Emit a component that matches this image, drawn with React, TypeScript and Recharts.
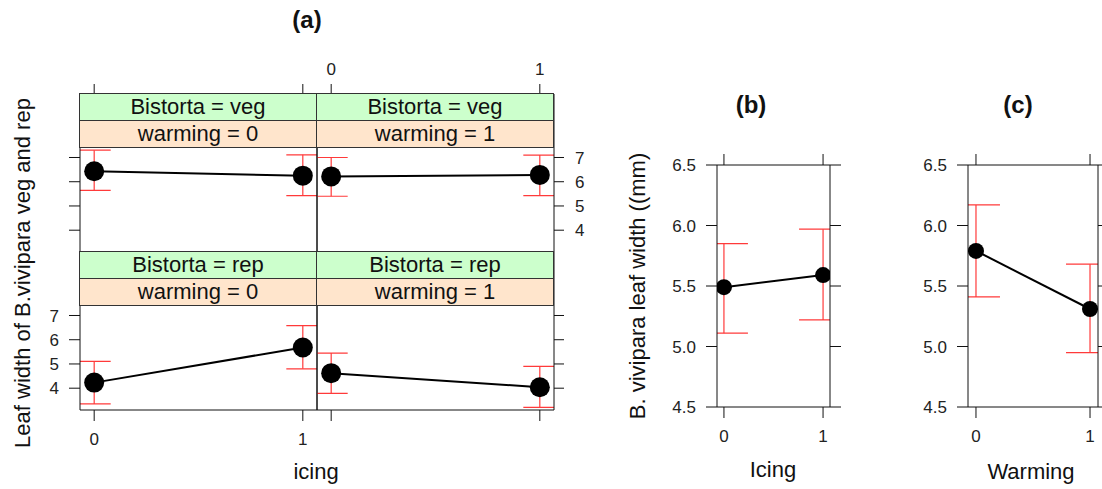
import { LineChart, Line, XAxis, YAxis, ErrorBar } from 'recharts';

// treatment levels on the x axes
const levels = [0, 1];
const latticeYTicks = [4, 5, 6, 7];
const meanYTicks = [4.5, 5.0, 5.5, 6.0, 6.5];

// (a) Bistorta veg / rep by warming, mean with lower/upper limits
const vegW0Mean = [6.43, 6.25];
const vegW0Low = [5.64, 5.43];
const vegW0High = [7.3, 7.11];

const vegW1Mean = [6.22, 6.28];
const vegW1Low = [5.4, 5.43];
const vegW1High = [7.0, 7.1];

const repW0Mean = [4.23, 5.68];
const repW0Low = [3.35, 4.8];
const repW0High = [5.11, 6.58];

const repW1Mean = [4.62, 4.04];
const repW1Low = [3.79, 3.21];
const repW1High = [5.45, 4.9];

// (b) icing, (c) warming
const icingMean = [5.49, 5.59];
const icingLow = [5.11, 5.22];
const icingHigh = [5.85, 5.97];

const warmingMean = [5.79, 5.31];
const warmingLow = [5.41, 4.95];
const warmingHigh = [6.17, 5.68];

const FONT = '"Liberation Sans", Arial, Helvetica, sans-serif';
const AX = '#111';
const ERR = '#ff3a3a';

function rows(mean: number[], low: number[], high: number[]) {
  return levels.map((lvl, i) => ({
    level: lvl,
    mean: mean[i],
    err: [mean[i] - low[i], high[i] - mean[i]],
  }));
}

type Side = 'none' | 'ticks' | 'labels';

const tickFont = { fontSize: 17, fill: '#222', fontFamily: FONT };
// tick mark without a label
const noLabel = () => <g />;

const pick = (s: Side) => (s === 'labels' ? tickFont : noLabel);

// clip rect for the error bars, so caps stop at the panel border
function PlotClip({ id, x, y, w, h }: { id: string; x: number; y: number; w: number; h: number }) {
  return (
    <>
      <defs>
        <clipPath id={id}>
          <rect x={x} y={y} width={w} height={h} />
        </clipPath>
      </defs>
      <style>{`.${id} .recharts-errorBars, .${id} .recharts-errorBar { clip-path: url(#${id}); }`}</style>
    </>
  );
}

function LatticePanel(props: {
  id: string;
  x: number;
  y: number;
  data: any[];
  left: Side;
  right: Side;
  top: Side;
  bottom: Side;
  strip1: string;
  strip2: string;
}) {
  const { id, x, y, data, left, right, top, bottom, strip1, strip2 } = props;
  const padL = 50, padR = 40, padT = 40, padB = 50;
  const w = 237, h = 158;
  const xDomain = [-0.068, 1.068];
  const yDomain = [3.1, 9.62];
  return (
    <>
      <div className={id} style={{ position: 'absolute', left: x - padL + 0.5, top: y - padT + 0.5 }}>
        <LineChart
          width={padL + w + padR}
          height={padT + h + padB}
          data={data}
          margin={{ top: 0, right: 0, bottom: 0, left: 0 }}
        >
          <PlotClip id={id} x={padL} y={padT} w={w} h={h} />
          <XAxis xAxisId="b" dataKey="level" type="number" orientation="bottom" domain={xDomain}
            ticks={levels} interval={0} height={padB} stroke={AX} allowDataOverflow
            tickLine={bottom !== 'none'} tickSize={11} tickMargin={12} tick={pick(bottom)} />
          <XAxis xAxisId="t" dataKey="level" type="number" orientation="top" domain={xDomain}
            ticks={levels} interval={0} height={padT} stroke={AX} allowDataOverflow
            tickLine={top !== 'none'} tickSize={10} tickMargin={9} tick={pick(top)} />
          <YAxis yAxisId="l" type="number" orientation="left" domain={yDomain} ticks={latticeYTicks}
            interval={0} width={padL} stroke={AX} allowDataOverflow
            tickLine={left !== 'none'} tickSize={11} tickMargin={10} tick={pick(left)} />
          <YAxis yAxisId="r" type="number" orientation="right" domain={yDomain} ticks={latticeYTicks}
            interval={0} width={padR} stroke={AX} allowDataOverflow
            tickLine={right !== 'none'} tickSize={10} tickMargin={11} tick={pick(right)} />
          <Line xAxisId="b" yAxisId="l" dataKey="mean" stroke="#000" strokeWidth={2}
            dot={{ r: 10, fill: '#000', stroke: '#000', strokeWidth: 0 }} isAnimationActive={false}>
            <ErrorBar dataKey="err" width={16.5} stroke={ERR} strokeWidth={1.2} direction="y" />
          </Line>
        </LineChart>
      </div>
      <div style={{ ...stripStyle, left: x, top: y, background: '#ccffcc' }}>{strip1}</div>
      <div style={{ ...stripStyle, left: x, top: y + 27, background: '#ffe5cc' }}>{strip2}</div>
    </>
  );
}

const stripStyle: any = {
  position: 'absolute',
  width: 238,
  height: 28,
  boxSizing: 'border-box',
  border: '1px solid #333',
  fontSize: 22,
  lineHeight: '25px',
  textAlign: 'center',
  color: '#111',
};

function MeanPanel(props: { id: string; x: number; y: number; w: number; h: number; data: any[] }) {
  const { id, x, y, w, h, data } = props;
  const padL = 70, padR = 20, padT = 20, padB = 40;
  const xDomain = [-0.07, 1.07];
  const yDomain = [4.5, 6.5];
  return (
    <div className={id} style={{ position: 'absolute', left: x - padL + 0.5, top: y - padT + 0.5 }}>
      <LineChart width={padL + w + padR} height={padT + h + padB} data={data}
        margin={{ top: 0, right: 0, bottom: 0, left: 0 }}>
        <PlotClip id={id} x={padL} y={padT} w={w} h={h} />
        <XAxis xAxisId="b" dataKey="level" type="number" orientation="bottom" domain={xDomain}
          ticks={levels} interval={0} height={padB} stroke={AX} allowDataOverflow
          tickSize={11} tickMargin={12} tick={tickFont} />
        <XAxis xAxisId="t" dataKey="level" type="number" orientation="top" domain={xDomain}
          ticks={levels} interval={0} height={padT} stroke={AX} allowDataOverflow
          tickSize={11} tick={noLabel} />
        <YAxis yAxisId="l" type="number" orientation="left" domain={yDomain} ticks={meanYTicks}
          interval={0} width={padL} stroke={AX} allowDataOverflow tickSize={11} tickMargin={10}
          tick={tickFont} tickFormatter={(v: number) => v.toFixed(1)} />
        <YAxis yAxisId="r" type="number" orientation="right" domain={yDomain} ticks={meanYTicks}
          interval={0} width={padR} stroke={AX} allowDataOverflow tickSize={11} tick={noLabel} />
        <Line xAxisId="b" yAxisId="l" dataKey="mean" stroke="#000" strokeWidth={2}
          dot={{ r: 8, fill: '#000', stroke: '#000', strokeWidth: 0 }} isAnimationActive={false}>
          <ErrorBar dataKey="err" width={24} stroke={ERR} strokeWidth={1.2} direction="y" />
        </Line>
      </LineChart>
    </div>
  );
}

const label = (x: number, y: number, text: string, extra: any = {}) => (
  <div style={{
    position: 'absolute', left: x, top: y, transform: 'translate(-50%, -50%)',
    whiteSpace: 'nowrap', fontSize: 22, color: '#111', ...extra,
  }}>{text}</div>
);

export default function App() {
  return (
    <div style={{
      position: 'absolute', left: 0, top: 0, width: 1102, height: 489,
      background: '#fff', overflow: 'hidden', fontFamily: FONT,
    }}>
      <LatticePanel id="clipA1" x={79} y={93} data={rows(vegW0Mean, vegW0Low, vegW0High)}
        left="ticks" right="none" top="ticks" bottom="none"
        strip1="Bistorta = veg" strip2="warming = 0" />
      <LatticePanel id="clipA2" x={316} y={93} data={rows(vegW1Mean, vegW1Low, vegW1High)}
        left="none" right="labels" top="labels" bottom="none"
        strip1="Bistorta = veg" strip2="warming = 1" />
      <LatticePanel id="clipA3" x={79} y={251} data={rows(repW0Mean, repW0Low, repW0High)}
        left="labels" right="none" top="none" bottom="labels"
        strip1="Bistorta = rep" strip2="warming = 0" />
      <LatticePanel id="clipA4" x={316} y={251} data={rows(repW1Mean, repW1Low, repW1High)}
        left="none" right="ticks" top="none" bottom="ticks"
        strip1="Bistorta = rep" strip2="warming = 1" />

      <MeanPanel id="clipB" x={716} y={164} w={113} h={242} data={rows(icingMean, icingLow, icingHigh)} />
      <MeanPanel id="clipC" x={967} y={164} w={130} h={242} data={rows(warmingMean, warmingLow, warmingHigh)} />

      {label(307, 20, '(a)', { fontWeight: 'bold', fontSize: 24 })}
      {label(751, 105, '(b)', { fontWeight: 'bold', fontSize: 24 })}
      {label(1018, 105, '(c)', { fontWeight: 'bold', fontSize: 24 })}

      {label(316, 472, 'icing')}
      {label(773, 470, 'Icing')}
      {label(1031, 472, 'Warming')}

      {label(23, 273, 'Leaf width of B.vivipara veg and rep', { transform: 'translate(-50%, -50%) rotate(-90deg)' })}
      {label(638, 286, 'B. vivipara leaf width ((mm)', { transform: 'translate(-50%, -50%) rotate(-90deg)' })}
    </div>
  );
}
